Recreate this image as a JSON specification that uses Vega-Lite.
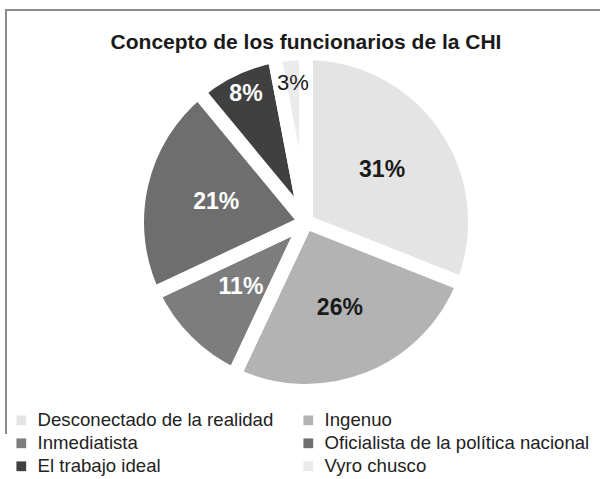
{
  "$schema": "https://vega.github.io/schema/vega-lite/v6.json",
  "width": 600,
  "height": 424,
  "autosize": {"type": "none"},
  "padding": {"left": 6, "top": 10, "right": 0, "bottom": 45},
  "background": "white",
  "view": {"stroke": "#8c8c8c", "strokeWidth": 2, "strokeDash": [600, 1024, 424]},
  "config": {
    "font": "Liberation Sans"
  },
  "title": {
    "text": "Concepto de los funcionarios de la CHI",
    "fontSize": 21,
    "fontWeight": "bold",
    "color": "#1a1a1a",
    "anchor": "middle",
    "offset": -43,
    "font": "Liberation Sans"
  },
  "data": {
    "values": [
      {"categoria": "Desconectado de la realidad", "pct": 0.31, "orden": 1},
      {"categoria": "Ingenuo", "pct": 0.26, "orden": 2},
      {"categoria": "Inmediatista", "pct": 0.11, "orden": 3},
      {"categoria": "Oficialista de la política nacional", "pct": 0.21, "orden": 4},
      {"categoria": "El trabajo ideal", "pct": 0.08, "orden": 5},
      {"categoria": "Vyro chusco", "pct": 0.03, "orden": 6}
    ]
  },
  "encoding": {
    "theta": {"field": "pct", "type": "quantitative", "stack": true},
    "order": {"field": "orden", "type": "quantitative"}
  },
  "layer": [
    {
      "mark": {"type": "arc", "outerRadius": 169, "stroke": "white", "strokeWidth": 14, "strokeJoin": "round"},
      "encoding": {
        "color": {
          "field": "categoria",
          "type": "nominal",
          "scale": {
            "domain": ["Desconectado de la realidad", "Ingenuo", "Inmediatista", "Oficialista de la política nacional", "El trabajo ideal", "Vyro chusco"],
            "range": ["#e4e4e4", "#b3b3b3", "#7d7d7d", "#6e6e6e", "#404040", "#ebebeb"]
          },
          "legend": {
            "orient": "bottom",
            "direction": "horizontal",
            "columns": 2,
            "title": null,
            "symbolType": "square",
            "symbolSize": 95,
            "symbolStrokeWidth": 0,
            "labelFontSize": 18.6,
            "labelColor": "#222222",
            "labelFont": "Liberation Sans",
            "labelLimit": 400,
            "labelOffset": 7,
            "columnPadding": 25,
            "rowPadding": 4,
            "padding": 6,
            "offset": -29
          }
        }
      }
    },
    {
      "mark": {"type": "text", "radius": 92, "fontSize": 23, "fontWeight": "bold", "font": "Liberation Sans"},
      "encoding": {
        "text": {"condition": {"test": "datum.orden <= 4", "field": "pct", "type": "quantitative", "format": ".0%"}, "value": ""},
        "color": {"condition": {"test": "datum.orden >= 3", "value": "white"}, "value": "#1a1a1a"}
      }
    },
    {
      "mark": {"type": "text", "radius": 141, "fontSize": 23, "fontWeight": "bold", "font": "Liberation Sans", "color": "white"},
      "encoding": {
        "text": {"condition": {"test": "datum.orden == 5", "field": "pct", "type": "quantitative", "format": ".0%"}, "value": ""}
      }
    },
    {
      "mark": {"type": "text", "radius": 140, "fontSize": 22, "fontWeight": "normal", "font": "Liberation Sans", "color": "#1a1a1a"},
      "encoding": {
        "text": {"condition": {"test": "datum.orden == 6", "field": "pct", "type": "quantitative", "format": ".0%"}, "value": ""}
      }
    }
  ]
}
